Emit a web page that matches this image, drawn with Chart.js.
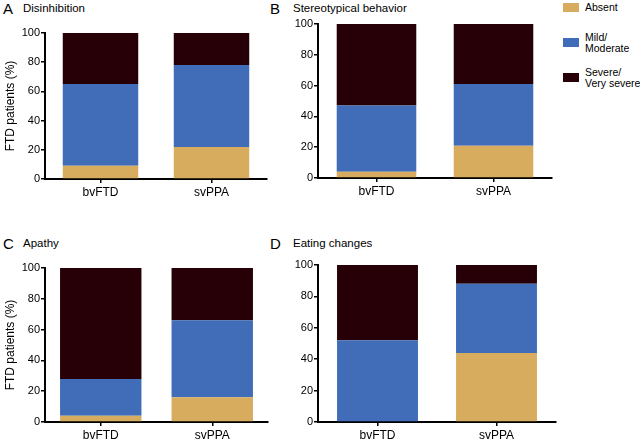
<!DOCTYPE html>
<html>
<head>
<meta charset="utf-8">
<script src="https://cdn.jsdelivr.net/npm/chart.js@4.4.1/dist/chart.umd.min.js"></script>
<style>
  html, body { margin: 0; padding: 0; background: #fff; overflow: hidden; }
  body { width: 640px; height: 441px; position: relative; font-family: "Liberation Sans", Arial, sans-serif; color: #000; }
  canvas { position: absolute; }
  .letter { position: absolute; font-size: 15px; line-height: 15px; }
  .title { position: absolute; font-size: 11.5px; line-height: 12px; }
  .legend { position: absolute; left: 563px; font-size: 10.5px; line-height: 11px; }
  .legend .sw { position: absolute; left: 0; width: 16px; height: 9px; }
  .legend .tx { position: absolute; left: 22px; white-space: nowrap; }
</style>
</head>
<body>
<div class="letter" style="left:3px;top:1px">A</div>
<div class="title" style="left:23px;top:2px">Disinhibition</div>
<div class="letter" style="left:270px;top:1px">B</div>
<div class="title" style="left:293px;top:2px">Stereotypical behavior</div>
<div class="letter" style="left:3px;top:236px">C</div>
<div class="title" style="left:23px;top:237px">Apathy</div>
<div class="letter" style="left:270px;top:236px">D</div>
<div class="title" style="left:293px;top:237px">Eating changes</div>
<div class="legend" id="legend" style="top:0"></div>

<canvas id="cA" width="272" height="176" style="left:0;top:23px"></canvas>
<canvas id="cB" width="284" height="184" style="left:273px;top:14px"></canvas>
<canvas id="cC" width="273" height="184" style="left:0;top:258px"></canvas>
<canvas id="cD" width="288" height="187" style="left:273px;top:255px"></canvas>

<script>
const categories = ['bvFTD', 'svPPA'];
const seriesLabels = ['Absent', 'Mild/Moderate', 'Severe/Very severe'];
const seriesColors = ['#d8ac5f', '#406cb8', '#260006'];
const yTickValues = [0, 20, 40, 60, 80, 100];

// A Disinhibition
const absentA = [9, 22];
const mildA = [56, 56];
const severeA = [35, 22];
// B Stereotypical behavior
const absentB = [4, 21];
const mildB = [43, 40];
const severeB = [53, 39];
// C Apathy
const absentC = [4, 16];
const mildC = [24, 50];
const severeC = [72, 34];
// D Eating changes
const absentD = [0, 44];
const mildD = [52, 44];
const severeD = [48, 12];

Chart.defaults.font.family = '"Liberation Sans", Arial, sans-serif';
Chart.defaults.color = '#000';

function makePanel(id, absent, mild, severe, yTitle, barPct) {
    const values = [absent, mild, severe];
    return new Chart(document.getElementById(id), {
        type: 'bar',
        data: {
            labels: categories,
            datasets: values.map((v, i) => ({
                label: seriesLabels[i],
                data: v,
                backgroundColor: seriesColors[i],
                borderWidth: 0,
                barPercentage: barPct,
                categoryPercentage: 1
            }))
        },
        options: {
            responsive: false,
            animation: false,
            layout: { padding: { top: 10, right: 5, left: 0, bottom: 0 } },
            plugins: { legend: { display: false }, tooltip: { enabled: false } },
            scales: {
                x: {
                    stacked: true,
                    grid: { drawOnChartArea: false, offset: false, tickLength: 4, color: '#000', lineWidth: 1.5 },
                    border: { color: '#000', width: 2 },
                    ticks: { font: { size: 12 }, color: '#000', padding: 2 },
                    afterFit: s => { s.height = 20; }
                },
                y: {
                    stacked: true,
                    min: 0,
                    max: 100,
                    afterBuildTicks: s => { s.ticks = yTickValues.map(v => ({ value: v })); },
                    ticks: { font: { size: 11 }, color: '#000', padding: 1 },
                    grid: { drawOnChartArea: false, tickLength: 4, color: '#000', lineWidth: 1.5 },
                    border: { color: '#000', width: 2 },
                    title: { display: yTitle, text: 'FTD patients (%)', font: { size: 12 }, color: '#000', padding: { top: 3, bottom: 0 } },
                    afterFit: s => { s.width = 45; }
                }
            }
        }
    });
}

makePanel('cA', absentA, mildA, severeA, true, 0.68);
makePanel('cB', absentB, mildB, severeB, false, 0.68);
makePanel('cC', absentC, mildC, severeC, true, 0.73);
makePanel('cD', absentD, mildD, severeD, false, 0.68);

// legend
const legendTops = [3, 38, 73];
const legendLines = [['Absent'], ['Mild/', 'Moderate'], ['Severe/', 'Very severe']];
const legend = document.getElementById('legend');
seriesLabels.forEach((lab, i) => {
    const sw = document.createElement('div');
    sw.className = 'sw';
    sw.style.top = legendTops[i] + 'px';
    sw.style.background = seriesColors[i];
    legend.appendChild(sw);
    const tx = document.createElement('div');
    tx.className = 'tx';
    const n = legendLines[i].length;
    tx.style.top = (legendTops[i] + 4.5 - n * 5.5) + 'px';
    tx.innerHTML = legendLines[i].join('<br>');
    legend.appendChild(tx);
});
</script>
</body>
</html>
